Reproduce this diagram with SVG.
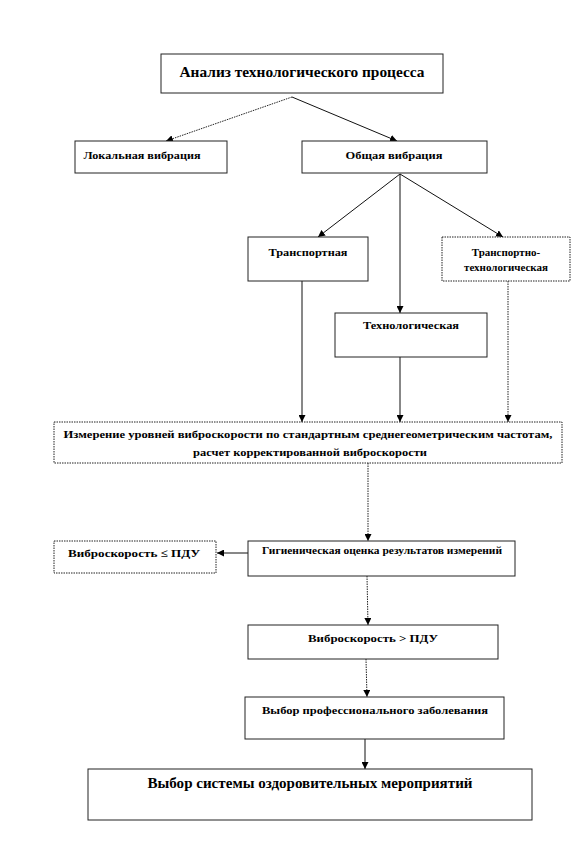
<svg xmlns="http://www.w3.org/2000/svg" width="576" height="864" viewBox="0 0 576 864">
<style>
.box{fill:#fff;stroke:#222;stroke-width:1}
.dot{stroke-dasharray:1.5,1}
.t{font-family:"Liberation Serif","Times New Roman",serif;font-weight:bold;fill:#000;text-anchor:middle}
.c{stroke:#111;stroke-width:1;fill:none}
.cd{stroke:#222;stroke-width:1;fill:none;stroke-dasharray:1.5,1}
</style>
<defs>
<marker id="ah" viewBox="0 0 10 10" refX="10" refY="5" markerWidth="7" markerHeight="7" orient="auto" markerUnits="userSpaceOnUse">
<path d="M0,0 L10,5 L0,10 z" fill="#000"/>
</marker>
</defs>
<rect width="576" height="864" fill="#fff"/>
<g id="connectors">
<path class="cd" d="M292,97 L166,141" marker-end="url(#ah)"/>
<path class="c" d="M292,97 L397,141" marker-end="url(#ah)"/>
<path class="c" d="M400,174 L318,237" marker-end="url(#ah)"/>
<path class="c" d="M400,174 L400,313" marker-end="url(#ah)"/>
<path class="c" d="M400,174 L503,237" marker-end="url(#ah)"/>
<path class="c" d="M302,281 L302,422" marker-end="url(#ah)"/>
<path class="c" d="M400,357 L400,422" marker-end="url(#ah)"/>
<path class="cd" d="M508,281 L508,422" marker-end="url(#ah)"/>
<path class="cd" d="M368,463 L368,541" marker-end="url(#ah)"/>
<path class="c" d="M248,553 L217,553" marker-end="url(#ah)"/>
<path class="cd" d="M367,576 L368,625" marker-end="url(#ah)"/>
<path class="cd" d="M366,659 L367,697" marker-end="url(#ah)"/>
<path class="c" d="M365,739 L365,769" marker-end="url(#ah)"/>
</g>
<g id="n1">
<rect class="box" x="161" y="54" width="282" height="39"/>
<text class="t" x="302" y="77" font-size="14" textLength="245" lengthAdjust="spacingAndGlyphs">Анализ технологического  процесса</text>
</g>
<g id="n2">
<rect class="box" x="75" y="141" width="152" height="32"/>
<text class="t" x="142" y="159" font-size="11" textLength="117" lengthAdjust="spacingAndGlyphs">Локальная вибрация</text>
</g>
<g id="n3">
<rect class="box" x="302" y="141" width="185" height="32"/>
<text class="t" x="394" y="159" font-size="11" textLength="97" lengthAdjust="spacingAndGlyphs">Общая вибрация</text>
</g>
<g id="n4">
<rect class="box" x="248" y="237" width="120" height="44"/>
<text class="t" x="308" y="256" font-size="11" textLength="79" lengthAdjust="spacingAndGlyphs">Транспортная</text>
</g>
<g id="n5">
<rect class="box dot" x="442" y="237" width="128" height="44"/>
<text class="t" x="506" y="256" font-size="11">Транспортно-</text>
<text class="t" x="506" y="271" font-size="11">технологическая</text>
</g>
<g id="n6">
<rect class="box" x="335" y="313" width="152" height="44"/>
<text class="t" x="411" y="329" font-size="11" textLength="96" lengthAdjust="spacingAndGlyphs">Технологическая</text>
</g>
<g id="n7">
<rect class="box dot" x="54" y="422" width="508" height="41"/>
<text class="t" x="308" y="438" font-size="11" textLength="489" lengthAdjust="spacingAndGlyphs">Измерение уровней виброскорости по  стандартным среднегеометрическим частотам,</text>
<text class="t" x="310" y="456" font-size="11" textLength="234" lengthAdjust="spacingAndGlyphs">расчет корректированной  виброскорости</text>
</g>
<g id="n8">
<rect class="box" x="248" y="541" width="267" height="35"/>
<text class="t" x="382" y="554" font-size="11" textLength="240" lengthAdjust="spacingAndGlyphs">Гигиеническая  оценка  результатов измерений</text>
</g>
<g id="n9">
<rect class="box dot" x="54" y="541" width="162" height="32"/>
<text class="t" x="134" y="557" font-size="11" textLength="132" lengthAdjust="spacingAndGlyphs">Виброскорость  ≤ ПДУ</text>
</g>
<g id="n10">
<rect class="box" x="248" y="625" width="250" height="34"/>
<text class="t" x="373" y="642" font-size="11" textLength="130" lengthAdjust="spacingAndGlyphs">Виброскорость &gt; ПДУ</text>
</g>
<g id="n11">
<rect class="box" x="245" y="697" width="259" height="42"/>
<text class="t" x="375" y="714" font-size="11" textLength="226" lengthAdjust="spacingAndGlyphs">Выбор профессионального заболевания</text>
</g>
<g id="n12">
<rect class="box" x="88" y="769" width="444" height="51"/>
<text class="t" x="310" y="788" font-size="14" textLength="325" lengthAdjust="spacingAndGlyphs">Выбор  системы оздоровительных мероприятий</text>
</g>
</svg>
